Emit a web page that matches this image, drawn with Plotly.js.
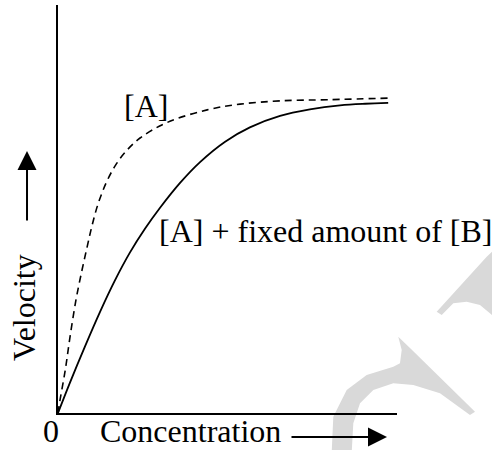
<!DOCTYPE html>
<html>
<head>
<meta charset="utf-8">
<script src="https://cdn.plot.ly/plotly-3.0.1.min.js"></script>
<style>html,body{margin:0;padding:0;background:#fff;}#chart{width:492px;height:450px;}</style>
</head>
<body>
<div id="chart"></div>
<script>
// Concentration (arbitrary units, 0-100) and velocity (arbitrary units, 0-100)
var concA = [0, 0.6, 2.1, 3.5, 5.3, 7.1, 8.6, 10.0, 11.8, 14.2, 16.8, 19.8, 24.2, 32.2, 44.0, 53.7, 65.5, 80.2, 98.5];
var velA  = [0, 3.2, 10.3, 18.4, 27.7, 35.1, 40.7, 45.8, 51.2, 56.4, 60.5, 63.9, 67.4, 71.2, 74.3, 75.7, 76.5, 76.8, 77.2];
var concAB = [0, 3.5, 8.0, 12.4, 16.8, 21.2, 25.7, 30.1, 36.0, 41.9, 49.3, 56.6, 65.5, 74.3, 83.2, 90.6, 97.4];
var velAB  = [0, 7.4, 16.4, 24.8, 32.5, 39.3, 45.2, 50.3, 56.4, 61.5, 66.5, 70.0, 72.8, 74.4, 75.4, 75.8, 76.0];

var labelA = "[A]";
var labelAB = "[A] + fixed amount of [B]";
var xTitle = "Concentration";
var yTitle = "Velocity";
var originLabel = "0";

var font = {family: "Liberation Serif, Times New Roman, serif", size: 32, color: "#000"};

// decorative background watermark (not data), outlined in picture pixels
function pathFromPixels(pts) {
  return pts.map(function (p, i) {
    var fx = ((p[0] - 58) / 339).toFixed(4), fy = ((413 - p[1]) / 408).toFixed(4);
    return (i ? "L" : "M") + fx + "," + fy;
  }).join("") + "Z";
}
var wm1 = [[331.7,452],[333.3,416.7],[346.7,390],[366.7,375],[393.3,366.7],[400,363.3],[401.7,350],[398.3,336.7],[410,348],[475,411.7],[470,415],[440,393.3],[413.3,385],[393.3,383.3],[373.3,390],[360,403.3],[353.3,423.3],[351.7,452]];
var wm2 = [[436.7,311.7],[486.7,256.7],[494,250],[494,316.7],[480,305],[466.7,301.7],[453.3,303.3],[441.7,315]];

var traces = [
  {x: concA, y: velA, mode: "lines", line: {color: "#000", width: 1.6, dash: "7px,5px", shape: "spline", smoothing: 1}, hoverinfo: "skip"},
  {x: concAB, y: velAB, mode: "lines", line: {color: "#000", width: 1.8, shape: "spline", smoothing: 1}, hoverinfo: "skip"}
];

var layout = {
  width: 492, height: 450,
  margin: {l: 58, r: 95, t: 5, b: 37, pad: 0},
  paper_bgcolor: "#fff", plot_bgcolor: "rgba(0,0,0,0)",
  showlegend: false,
  xaxis: {range: [0, 100], showgrid: false, zeroline: false, showticklabels: false, ticks: "",
          showline: true, linecolor: "#000", linewidth: 2},
  yaxis: {range: [0, 100], showgrid: false, zeroline: false, showticklabels: false, ticks: "",
          showline: true, linecolor: "#000", linewidth: 2},
  shapes: [
    {type: "path", xref: "paper", yref: "paper", path: pathFromPixels(wm1), fillcolor: "#d9d9d9", line: {width: 0}, layer: "below"},
    {type: "path", xref: "paper", yref: "paper", path: pathFromPixels(wm2), fillcolor: "#d9d9d9", line: {width: 0}, layer: "below"}
  ],
  annotations: [
    {xref: "paper", yref: "paper", x: 0.2596, y: 0.7525, xanchor: "center", yanchor: "middle", text: labelA, showarrow: false, font: font},
    {xref: "paper", yref: "paper", x: 0.2915, y: 0.4470, xanchor: "left", yanchor: "middle", text: labelAB, showarrow: false, font: font},
    {xref: "paper", yref: "paper", x: -0.0206, y: -0.045, xanchor: "center", yanchor: "middle", text: originLabel, showarrow: false, font: font},
    {xref: "paper", yref: "paper", x: 0.1180, y: -0.045, xanchor: "left", yanchor: "middle", text: xTitle, showarrow: false, font: font},
    {xref: "paper", yref: "paper", x: -0.1003, y: 0.2600, xanchor: "center", yanchor: "middle", text: yTitle, textangle: -90, showarrow: false, font: font},
    {xref: "paper", yref: "paper", x: -0.0914, y: 0.642, text: "", showarrow: true, ax: 0, ay: 71, arrowhead: 2, arrowsize: 1.9, arrowwidth: 2, arrowcolor: "#000"},
    {xref: "paper", yref: "paper", x: 0.9705, y: -0.0588, text: "", showarrow: true, ax: -97, ay: 0, arrowhead: 2, arrowsize: 1.9, arrowwidth: 2, arrowcolor: "#000"}
  ]
};

Plotly.newPlot("chart", traces, layout, {staticPlot: true, displayModeBar: false});
</script>
</body>
</html>
